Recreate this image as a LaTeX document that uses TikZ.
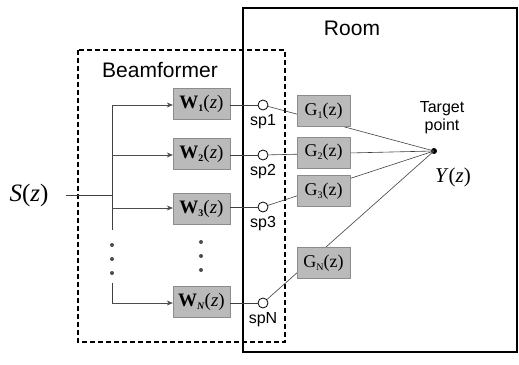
\documentclass[tikz,border=0pt]{standalone}
\usepackage{fontspec}
\setmainfont{Liberation Sans}
\newfontfamily\tnr{Liberation Serif}
\usetikzlibrary{arrows.meta}
\newcommand{\Wlab}[1]{{\tnr\textbf{W}\raisebox{-0.35ex}{\fontsize{10}{10}\selectfont\textbf{#1}}(\textit{z})}}
\newcommand{\Glab}[1]{{\tnr G\raisebox{-0.35ex}{\fontsize{10}{10}\selectfont #1}(z)}}
\tikzset{
  wbox/.style={draw=black!45, line width=0.4pt, fill=black!27, minimum width=57pt, minimum height=31pt, inner sep=0pt, font=\fontsize{19}{19}\selectfont},
  gbox/.style={draw=black!45, line width=0.4pt, fill=black!27, minimum width=53pt, minimum height=31pt, inner sep=0pt, font=\fontsize{18}{18}\selectfont},
  spk/.style={circle, draw, line width=0.8pt, fill=white, minimum size=10pt, inner sep=0pt},
  splab/.style={font=\fontsize{16}{16}\selectfont, inner sep=0pt},
  conn/.style={draw=black!75, line width=0.6pt},
  arr/.style={draw=black!70, line width=0.6pt, -{Stealth[length=6pt,width=5pt]}},
  dot/.style={circle, fill=black!70, minimum size=4pt, inner sep=0pt}
}
\begin{document}
\begin{tikzpicture}[x=1pt,y=-1pt]
\useasboundingbox (0,0) rectangle (519,364);
% room
\draw[line width=2.2pt] (243,8) rectangle (517,352);
\node[font=\fontsize{21}{21}\selectfont] (room) at (352,28) {Room};
% beamformer
\draw[line width=1.6pt, dash pattern=on 5pt off 3pt] (78,50) rectangle (285,342);
\node[font=\fontsize{21}{21}\selectfont] (bf) at (160,70) {Beamformer};
% input
\node[font=\fontsize{25}{25}\selectfont] (S) at (29,195) {{\tnr\textit{S}(\textit{z})}};
\coordinate (j0) at (112,195);
\coordinate (j1) at (112,105);
\coordinate (j2) at (112,155);
\coordinate (j3) at (112,208);
\coordinate (jt) at (112,230);
\coordinate (jb) at (112,283);
\coordinate (jN) at (112,303);
% W boxes
\node[wbox] (W1) at (201.5,104) {\Wlab{1}};
\node[wbox] (W2) at (201.5,154) {\Wlab{2}};
\node[wbox] (W3) at (201.5,209) {\Wlab{3}};
\node[wbox] (WN) at (201.5,302) {\Wlab{\textit{N}}};
% branches
\draw[conn] ([xshift=14pt]S.east) -- (j0);
\draw[conn] (j1) -- (jt);
\draw[conn] (jb) -- (jN);
\draw[arr] (j1) -- (W1.west |- j1);
\draw[arr] (j2) -- (W2.west |- j2);
\draw[arr] (j3) -- (W3.west |- j3);
\draw[arr] (jN) -- (WN.west |- jN);
\node[dot] (d1) at (112,245) {};
\node[dot] (d2) at (112,259) {};
\node[dot] (d3) at (112,273) {};
\node[dot] (e1) at (201,242) {};
\node[dot] (e2) at (201,256) {};
\node[dot] (e3) at (201,270) {};
% speakers
\node[spk] (sp1) at (263,105) {};
\node[spk] (sp2) at (263,155) {};
\node[spk] (sp3) at (263,207) {};
\node[spk] (spN) at (263,303) {};
\node[splab] (l1) at (263,122) {sp1};
\node[splab] (l2) at (263,172) {sp2};
\node[splab] (l3) at (263,224) {sp3};
\node[splab] (lN) at (263,320) {spN};
\draw[conn] (W1.east |- sp1) -- (sp1.west);
\draw[conn] (W2.east |- sp2) -- (sp2.west);
\draw[conn] (W3.east |- sp3) -- (sp3.west);
\draw[conn] (WN.east |- spN) -- (spN.west);
% target
\node[circle, fill=black, minimum size=6pt, inner sep=0pt] (T) at (434,151) {};
\node[font=\fontsize{16}{18}\selectfont, align=center] (tl) at (442,118) {Target\\point};
\node[font=\fontsize{21}{21}\selectfont] (Y) at (453,177) {{\tnr\textit{Y}(\textit{z})}};
\draw[conn] (sp1) -- (T.center);
\draw[conn] (sp2) -- (T.center);
\draw[conn] (sp3) -- (T.center);
\draw[conn] (spN) -- (T.center);
% G boxes
\node[gbox] (G1) at (323.5,111) {\Glab{1}};
\node[gbox] (G2) at (323.5,152.5) {\Glab{2}};
\node[gbox] (G3) at (323.5,191) {\Glab{3}};
\node[gbox] (GN) at (323.5,263) {\Glab{N}};
\end{tikzpicture}
\end{document}
